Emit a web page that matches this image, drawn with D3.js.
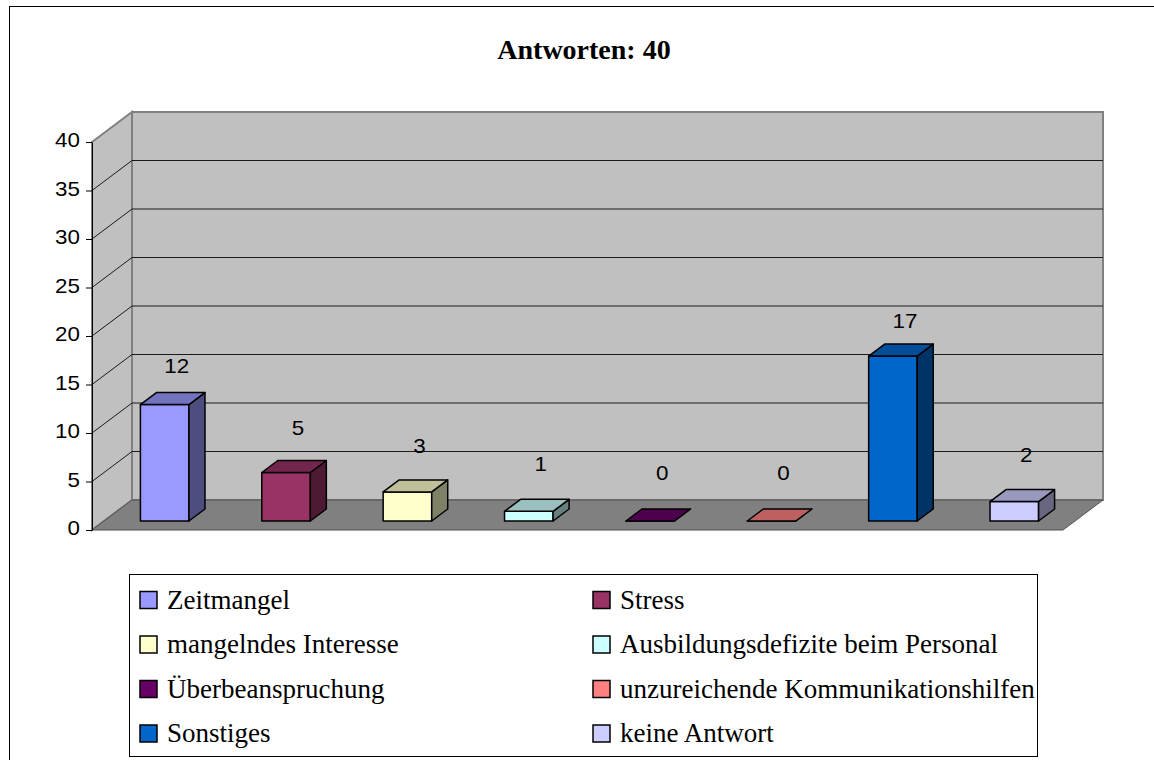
<!DOCTYPE html>
<html>
<head>
<meta charset="utf-8">
<script src="https://cdn.jsdelivr.net/npm/d3@7"></script>
<style>
body { margin: 0; background: #fff; }
</style>
</head>
<body>
<div id="c"></div>
<script>
var categories = ['Zeitmangel', 'Stress', 'mangelndes Interesse', 'Ausbildungsdefizite beim Personal', 'Überbeanspruchung', 'unzureichende Kommunikationshilfen', 'Sonstiges', 'keine Antwort'];
var values = [12, 5, 3, 1, 0, 0, 17, 2];
var colors = ['#9999ff', '#993366', '#ffffcc', '#ccffff', '#660066', '#ff8080', '#0066cc', '#ccccff'];
var y_ticks = [0, 5, 10, 15, 20, 25, 30, 35, 40];
var title = 'Antworten: 40';

var width = 1154;
var height = 760;

var x_left = 92, x_right = 1063;
var y_bottom = 530, y_top = 142;
var depth_x = 40, depth_y = 30;
var bar_z0 = 0.3, bar_z1 = 0.7;
var sans = '"Liberation Sans", Arial, sans-serif';
var serif = '"Liberation Serif", "Times New Roman", serif';

var svg = d3.select('#c').append('svg')
	.attr('width', width)
	.attr('height', height);

var x_scale = d3.scaleBand()
	.domain(categories)
	.range([x_left, x_right]);

var y_scale = d3.scaleLinear()
	.domain([0, 40])
	.range([y_bottom, y_top]);

// excel puts the value labels a bit lower than the bar tops
var label_scale = d3.scaleLinear()
	.domain([0, 40])
	.range([480, 122]);

// front plane x, value, depth 0..1 -> screen point
function proj(x, v, z) { return [x + z * depth_x, y_scale(v) - z * depth_y]; }
function poly(pts) { return d3.line()(pts) + 'Z'; }

// outer chart border
svg.append('rect')
	.attr('x', 9.5).attr('y', 6.5)
	.attr('width', 1300).attr('height', 900)
	.attr('fill', 'none')
	.attr('stroke', '#000');

// title
svg.append('text')
	.attr('x', 584).attr('y', 59)
	.attr('text-anchor', 'middle')
	.style('font-family', serif)
	.style('font-weight', 'bold')
	.style('font-size', '28px')
	.text(title);

// walls and floor
svg.append('path')
	.attr('d', poly([proj(x_left, 40, 0), proj(x_left, 40, 1), proj(x_left, 0, 1), proj(x_left, 0, 0)]))
	.attr('fill', '#c0c0c0')
	.attr('stroke', '#808080')
	.attr('stroke-width', 2);

svg.append('path')
	.attr('d', poly([proj(x_left, 40, 1), proj(x_right, 40, 1), proj(x_right, 0, 1), proj(x_left, 0, 1)]))
	.attr('fill', '#c0c0c0')
	.attr('stroke', '#808080')
	.attr('stroke-width', 2);

svg.append('path')
	.attr('d', poly([proj(x_left, 0, 0), proj(x_right, 0, 0), proj(x_right, 0, 1), proj(x_left, 0, 1)]))
	.attr('fill', '#808080')
	.attr('stroke', '#505050')
	.attr('stroke-width', 1);

// gridlines (side wall + back wall)
svg.append('g')
	.selectAll('path')
	.data(y_ticks.filter(function(t) { return t > 0 && t < 40; }))
	.enter()
	.append('path')
	.attr('d', function(t) { return d3.line()([proj(x_left, t, 0), proj(x_left, t, 1), proj(x_right, t, 1)]); })
	.attr('fill', 'none')
	.attr('stroke', '#1a1a1a')
	.attr('stroke-width', 1);

// y axis
var y_axis = svg.append('g')
	.attr('transform', 'translate(' + x_left + ',0)')
	.call(d3.axisLeft(y_scale).tickValues(y_ticks).tickSize(6).tickSizeOuter(0).tickFormat(d3.format('d')));

y_axis.select('.domain').attr('stroke', '#000');
y_axis.selectAll('.tick line').attr('stroke', '#000');
y_axis.selectAll('.tick text')
	.attr('x', 0)
	.attr('dy', '0.24em')
	.attr('transform', 'translate(-12,0) scale(1.12,1)')
	.attr('fill', '#000')
	.style('font-family', sans)
	.style('font-size', '20px');

// bars
var bw = x_scale.bandwidth() * 0.4;
var bar_data = categories.map(function(c, i) { return {cat: c, v: values[i], col: colors[i]}; });

var bars = svg.selectAll('.bar')
	.data(bar_data)
	.enter()
	.append('g')
	.attr('class', 'bar');

function bar_x0(d) { return x_scale(d.cat) + x_scale.bandwidth() / 2 - bw / 2; }

bars.append('path')
	.attr('d', function(d) {
		var x0 = bar_x0(d), x1 = x0 + bw;
		return poly([proj(x0, d.v, bar_z0), proj(x1, d.v, bar_z0), proj(x1, 0, bar_z0), proj(x0, 0, bar_z0)]);
	})
	.attr('fill', function(d) { return d.col; });

bars.append('path')
	.attr('d', function(d) {
		var x0 = bar_x0(d), x1 = x0 + bw;
		return poly([proj(x1, d.v, bar_z0), proj(x1, d.v, bar_z1), proj(x1, 0, bar_z1), proj(x1, 0, bar_z0)]);
	})
	.attr('fill', function(d) { var c = d3.rgb(d.col); return d3.rgb(c.r * 0.5, c.g * 0.5, c.b * 0.5); });

bars.append('path')
	.attr('d', function(d) {
		var x0 = bar_x0(d), x1 = x0 + bw;
		return poly([proj(x0, d.v, bar_z0), proj(x0, d.v, bar_z1), proj(x1, d.v, bar_z1), proj(x1, d.v, bar_z0)]);
	})
	.attr('fill', function(d) { var c = d3.rgb(d.col); return d3.rgb(c.r * 0.75, c.g * 0.75, c.b * 0.75); });

bars.selectAll('path')
	.attr('stroke', '#000')
	.attr('stroke-width', 1.5)
	.attr('stroke-linejoin', 'round');

// value labels
bars.append('text')
	.attr('transform', function(d) {
		return 'translate(' + (x_scale(d.cat) + x_scale.bandwidth() / 2 + 24) + ',' + label_scale(d.v) + ') scale(1.12,1)';
	})
	.attr('text-anchor', 'middle')
	.style('font-family', sans)
	.style('font-size', '20px')
	.text(function(d) { return d.v; });

// legend
var legend = svg.append('g');

legend.append('rect')
	.attr('x', 129.5).attr('y', 574.5)
	.attr('width', 908).attr('height', 182)
	.attr('fill', '#fff')
	.attr('stroke', '#000');

var items = legend.selectAll('.item')
	.data(bar_data)
	.enter()
	.append('g')
	.attr('class', 'item')
	.attr('transform', function(d, i) {
		return 'translate(' + (i % 2 ? 593 : 140) + ',' + (608.5 + Math.floor(i / 2) * 44.5) + ')';
	});

items.append('rect')
	.attr('x', 0).attr('y', -17)
	.attr('width', 17).attr('height', 17)
	.attr('fill', function(d) { return d.col; })
	.attr('stroke', '#000')
	.attr('stroke-width', 1.5);

items.append('text')
	.attr('x', 27).attr('y', 0)
	.style('font-family', serif)
	.style('font-size', '27px')
	.text(function(d) { return d.cat; });
</script>
</body>
</html>
